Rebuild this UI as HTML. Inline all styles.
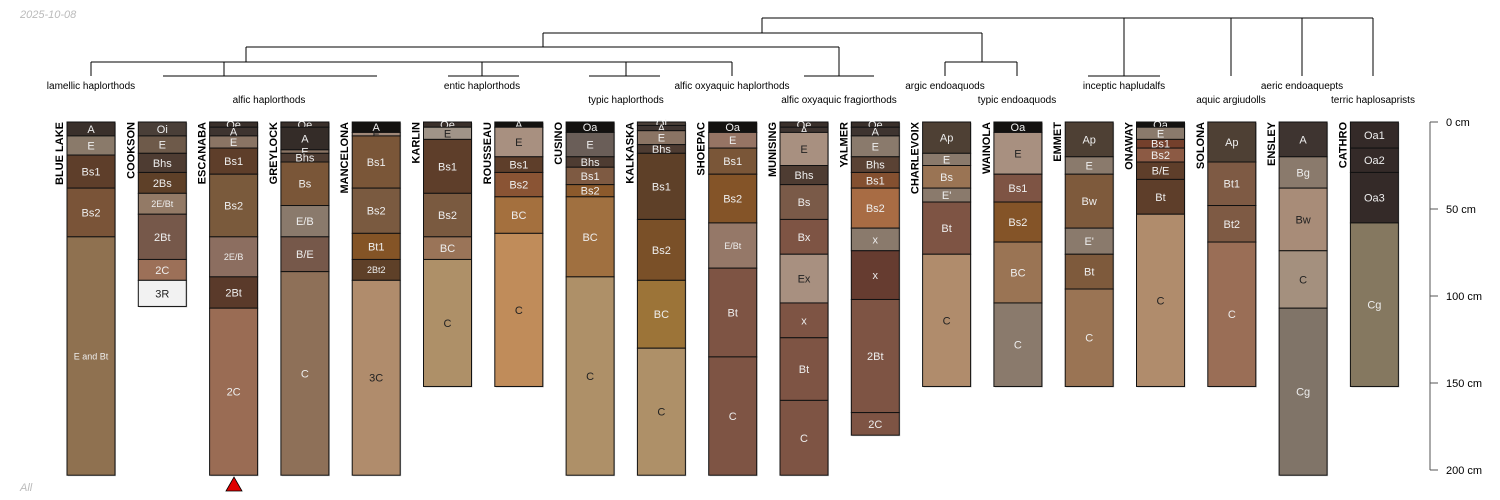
<!DOCTYPE html>
<html><head><meta charset="utf-8"><style>
body{margin:0;background:#fff;}
svg{display:block;font-family:"Liberation Sans",sans-serif;}
</style></head><body>
<svg id="chart" width="1500" height="500" viewBox="0 0 1500 500">
<text x="20" y="18" font-size="11" font-style="italic" fill="#bbb">2025-10-08</text>
<text x="20" y="491" font-size="11" font-style="italic" fill="#bbb">All</text>
<g id="dendro" stroke="#000" stroke-width="1" fill="none"></g>
<g id="tax" font-size="10" fill="#000" text-anchor="middle"></g>
<g id="profiles"></g>
<g id="axis"></g>
<polygon points="226,491 242,491 234,477" fill="#e00000" stroke="#000" stroke-width="0.8"/>
</svg>
<script>
const NS="http://www.w3.org/2000/svg";
const profileNames=["BLUE LAKE","COOKSON","ESCANABA","GREYLOCK","MANCELONA","KARLIN","ROUSSEAU","CUSINO","KALKASKA","SHOEPAC","MUNISING","YALMER","CHARLEVOIX","WAINOLA","EMMET","ONAWAY","SOLONA","ENSLEY","CATHRO"];
// horizons: [label, top cm, bottom cm, colour]
const horizons=[
[["A",0,8,"#3a302b"],["E",8,19,"#8a7a6a"],["Bs1",19,38,"#5e3e2a"],["Bs2",38,66,"#7a5438"],["E and Bt",66,203,"#8f7150"]],
[["Oi",0,8,"#4a3f38"],["E",8,18,"#6e5a4a"],["Bhs",18,29,"#4e3c32"],["2Bs",29,41,"#5e4028"],["2E/Bt",41,53,"#937a66"],["2Bt",53,79,"#76584a"],["2C",79,91,"#9c7058"],["3R",91,106,"#f2f2f2"]],
[["Oe",0,3,"#3a302b"],["A",3,8,"#3e3430"],["E",8,15,"#8a7464"],["Bs1",15,30,"#5e3e2a"],["Bs2",30,66,"#7a5a3c"],["2E/B",66,89,"#8c6e60"],["2Bt",89,107,"#5a3a2a"],["2C",107,203,"#9a6c54"]],
[["Oe",0,3,"#3a302b"],["A",3,16,"#342c28"],["E",16,18,"#8a7464"],["Bhs",18,23,"#4e3c32"],["Bs",23,48,"#7a5638"],["E/B",48,66,"#8a7a6c"],["B/E",66,86,"#76584a"],["C",86,203,"#8e7058"]],
[["A",0,6,"#141210"],["E",6,8,"#a08878"],["Bs1",8,38,"#7a5638"],["Bs2",38,64,"#7a5a40"],["Bt1",64,79,"#845426"],["2Bt2",79,91,"#5e4028"],["3C",91,203,"#b08c6c"]],
[["Oe",0,3,"#3a302b"],["E",3,10,"#a09488"],["Bs1",10,41,"#5e3e2a"],["Bs2",41,66,"#7a5a40"],["BC",66,79,"#9a7458"],["C",79,152,"#ae9068"]],
[["A",0,3,"#141210"],["E",3,20,"#a89080"],["Bs1",20,29,"#5e3e2a"],["Bs2",29,43,"#8a5434"],["BC",43,64,"#a4703e"],["C",64,152,"#c08c5a"]],
[["Oa",0,6,"#141210"],["E",6,20,"#6a5e58"],["Bhs",20,26,"#4e3c32"],["Bs1",26,36,"#7e5a42"],["Bs2",36,43,"#8c5a2c"],["BC",43,89,"#a07040"],["C",89,203,"#ae9068"]],
[["Oi",0,2,"#4a3f38"],["A",2,5,"#3e3430"],["E",5,13,"#8a7464"],["Bhs",13,18,"#4e3c32"],["Bs1",18,56,"#5e4028"],["Bs2",56,91,"#7a5028"],["BC",91,130,"#9c7438"],["C",130,203,"#ae9068"]],
[["Oa",0,6,"#141210"],["E",6,15,"#967464"],["Bs1",15,30,"#7a5638"],["Bs2",30,58,"#845428"],["E/Bt",58,84,"#957868"],["Bt",84,135,"#7e5444"],["C",135,203,"#7e5444"]],
[["Oe",0,3,"#3a302b"],["A",3,6,"#3e3430"],["E",6,25,"#a89080"],["Bhs",25,36,"#4e3c32"],["Bs",36,56,"#7a5a48"],["Bx",56,76,"#7e5444"],["Ex",76,104,"#a89080"],["x",104,124,"#7e5444"],["Bt",124,160,"#7e5444"],["C",160,203,"#7e5444"]],
[["Oe",0,3,"#3a302b"],["A",3,8,"#3e3430"],["E",8,20,"#8a7a6c"],["Bhs",20,29,"#5a4234"],["Bs1",29,38,"#845030"],["Bs2",38,61,"#a86c44"],["x",61,74,"#8a7a6c"],["x",74,102,"#663c30"],["2Bt",102,167,"#7e5444"],["2C",167,180,"#7e5444"]],
[["Ap",0,18,"#4e4034"],["E",18,25,"#8a7a6c"],["Bs",25,38,"#9a7454"],["E'",38,46,"#8a7a6c"],["Bt",46,76,"#7e5444"],["C",76,152,"#b08c6c"]],
[["Oa",0,6,"#141210"],["E",6,30,"#a89080"],["Bs1",30,46,"#7e5444"],["Bs2",46,69,"#845428"],["BC",69,104,"#9a7454"],["C",104,152,"#8a7a6c"]],
[["Ap",0,20,"#4e4034"],["E",20,30,"#8a7a6c"],["Bw",30,61,"#7e5a3c"],["E'",61,76,"#8a7a6c"],["Bt",76,96,"#7e5a3c"],["C",96,152,"#9a7454"]],
[["Oa",0,3,"#141210"],["E",3,10,"#8a7a6c"],["Bs1",10,15,"#74402c"],["Bs2",15,23,"#8c5a44"],["B/E",23,33,"#5e3e2a"],["Bt",33,53,"#5e3e2a"],["C",53,152,"#b08c6c"]],
[["Ap",0,23,"#4e4034"],["Bt1",23,48,"#7e5a44"],["Bt2",48,69,"#7e5a44"],["C",69,152,"#9a6e56"]],
[["A",0,20,"#3e3430"],["Bg",20,38,"#8a7a6c"],["Bw",38,74,"#a88c78"],["C",74,107,"#a4907e"],["Cg",107,203,"#807468"]],
[["Oa1",0,15,"#342a28"],["Oa2",15,29,"#342a28"],["Oa3",29,58,"#342a28"],["Cg",58,152,"#857860"]]
];
const taxLabels=["lamellic haplorthods","alfic haplorthods","entic haplorthods","typic haplorthods","alfic oxyaquic haplorthods","alfic oxyaquic fragiorthods","argic endoaquods","typic endoaquods","inceptic hapludalfs","aquic argiudolls","aeric endoaquepts","terric haplosaprists"];
const taxX=[91,269,482,626,732,839,945,1017,1124,1231,1302,1373];
const depthTicks=[0,50,100,150,200];

const y0=122, pxPerCm=1.74, left0=67, step=71.3, colW=48;
const yScale=d=>y0+d*pxPerCm;
const xPos=i=>left0+i*step;
function lum(hex){const r=parseInt(hex.substr(1,2),16),g=parseInt(hex.substr(3,2),16),b=parseInt(hex.substr(5,2),16);return 0.299*r+0.587*g+0.114*b;}

const P=document.getElementById('profiles');
profileNames.forEach((nm,i)=>{
  const x=xPos(i);
  const g=document.createElementNS(NS,'g');
  
  
  const hs=horizons[i];
  const bot=hs[hs.length-1][2];
  const sh=document.createElementNS(NS,'rect');
  sh.setAttribute('x',x+1);sh.setAttribute('y',y0+1);sh.setAttribute('width',colW);sh.setAttribute('height',yScale(bot)-y0);sh.setAttribute('fill','#ccc');
  
  
  g.appendChild(sh);
  hs.forEach(h=>{
    const r=document.createElementNS(NS,'rect');
    const yt=yScale(h[1]),yb=yScale(h[2]);
    r.setAttribute('x',x);r.setAttribute('y',yt);r.setAttribute('width',colW);r.setAttribute('height',yb-yt);
    r.setAttribute('fill',h[3]);r.setAttribute('stroke','#111');r.setAttribute('stroke-width','1');
    
    
    g.appendChild(r);
    const t=document.createElementNS(NS,'text');
    const fs=h[0].length>3?9:11;
    t.setAttribute('x',x+colW/2);t.setAttribute('y',(yt+yb)/2+fs*0.36);
    t.setAttribute('text-anchor','middle');t.setAttribute('font-size',fs);
    t.setAttribute('fill',lum(h[3])>140?'#222':'#eee');
    t.textContent=h[0];
    
    
    g.appendChild(t);
  });
  const n=document.createElementNS(NS,'text');
  n.setAttribute('transform','translate('+(x-4)+','+y0+') rotate(-90)');
  n.setAttribute('text-anchor','end');n.setAttribute('font-size','11');n.setAttribute('font-weight','bold');
  n.textContent=nm;
  
  
  g.appendChild(n);
  P.appendChild(g);
});

const T=document.getElementById('tax');
taxLabels.forEach((l,i)=>{
  const t=document.createElementNS(NS,'text');
  t.setAttribute('x',taxX[i]);t.setAttribute('y',i%2===0?89:103);
  t.textContent=l;
  
  
  T.appendChild(t);
});

const D=document.getElementById('dendro');
const segs=[[762,18,1373,18],[762,18,762,33],[1124,18,1124,76],[1231,18,1231,76],[1302,18,1302,76],[1373,18,1373,76],[1088,76,1160,76],
[543,33,982,33],[982,33,982,62],[945,62,1017,62],[945,62,945,76],[1017,62,1017,76],
[543,33,543,47],[246,47,839,47],[839,47,839,76],[804,76,874,76],
[246,47,246,62],[91,62,732,62],[91,62,91,76],[224,62,224,76],[163,76,377,76],[482,62,482,76],[448,76,519,76],[626,62,626,76],[589,76,660,76],[732,62,732,76]];
segs.forEach(s=>{
  const l=document.createElementNS(NS,'line');
  l.setAttribute('x1',s[0]);l.setAttribute('y1',s[1]);l.setAttribute('x2',s[2]);l.setAttribute('y2',s[3]);
  
  
  D.appendChild(l);
});

const A=document.getElementById('axis');
const al=document.createElementNS(NS,'line');
al.setAttribute('x1',1430);al.setAttribute('x2',1430);al.setAttribute('y1',yScale(0));al.setAttribute('y2',yScale(200));al.setAttribute('stroke','#555');


A.appendChild(al);
depthTicks.forEach(d=>{
  const tk=document.createElementNS(NS,'line');
  tk.setAttribute('x1',1430);tk.setAttribute('x2',1438);tk.setAttribute('y1',yScale(d));tk.setAttribute('y2',yScale(d));tk.setAttribute('stroke','#555');
  
  
  A.appendChild(tk);
  const t=document.createElementNS(NS,'text');
  t.setAttribute('x',1446);t.setAttribute('y',yScale(d)+4);t.setAttribute('font-size','11');
  t.textContent=d+' cm';
  
  
  A.appendChild(t);
});
</script>
</body></html>
